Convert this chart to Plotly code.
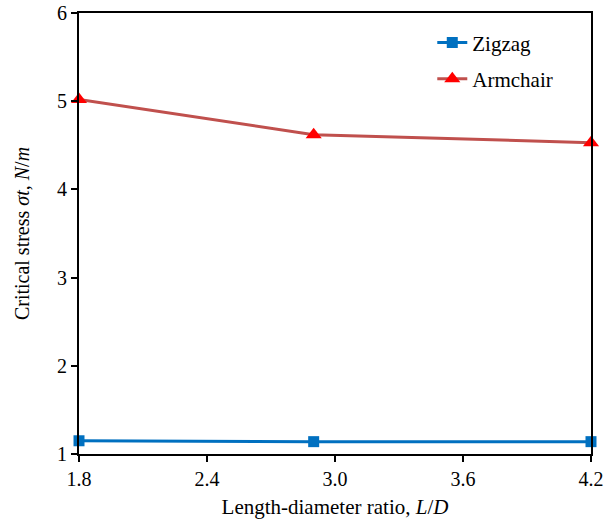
import plotly.graph_objects as go

ratio = [1.8, 2.9, 4.2]
zigzag = [1.15, 1.14, 1.14]
armchair = [5.02, 4.62, 4.53]
x_ticks = [1.8, 2.4, 3.0, 3.6, 4.2]
x_tick_labels = ["1.8", "2.4", "3.0", "3.6", "4.2"]
y_ticks = [1, 2, 3, 4, 5, 6]

font_family = "Liberation Serif, Times New Roman, serif"

fig = go.Figure()
fig.add_trace(go.Scatter(
    x=ratio, y=zigzag, name="Zigzag", mode="lines+markers", legendgroup="z",
    line=dict(color="#0070C0", width=3),
    marker=dict(symbol="square", size=11, color="#0070C0"),
    cliponaxis=False,
))
fig.add_trace(go.Scatter(
    x=ratio, y=armchair, name="Armchair", mode="lines+markers", legendgroup="a",
    line=dict(color="#C0504D", width=3),
    marker=dict(symbol="triangle-up", size=14, color="#FF0000"),
    cliponaxis=False,
))

fig.update_layout(
    width=605, height=520,
    margin=dict(l=79, r=14, t=13, b=66, autoexpand=False),
    paper_bgcolor="white", plot_bgcolor="white",
    font=dict(family=font_family, size=20, color="black"),
    showlegend=True,
    legend=dict(x=0.69, y=0.979, xanchor="left", yanchor="top",
                bgcolor="rgba(0,0,0,0)", font=dict(size=21, family=font_family),
                tracegroupgap=6, itemwidth=30),
)
fig.update_xaxes(
    range=[1.8, 4.2], tickvals=x_ticks, ticktext=x_tick_labels,
    showline=True, linecolor="black", linewidth=2, mirror=True,
    ticks="outside", ticklen=6, tickwidth=2, tickcolor="black",
    tickfont=dict(size=20),
    showgrid=False, zeroline=False, automargin=False,
    title=dict(text="Length-diameter ratio, <i>L</i>/<i>D</i>", font=dict(size=21), standoff=10),
)
fig.update_yaxes(
    range=[1, 6], tickvals=y_ticks,
    showline=True, linecolor="black", linewidth=2, mirror=True,
    ticks="outside", ticklen=6, tickwidth=2, tickcolor="black",
    tickfont=dict(size=20),
    showgrid=False, zeroline=False, automargin=False,
    title=dict(text="Critical stress <i>σt</i>, <i>N</i>/<i>m</i>", font=dict(size=20), standoff=22),
)

fig.write_html("out.html", config={"displayModeBar": False},
               post_script="document.body.style.margin='0px';")
